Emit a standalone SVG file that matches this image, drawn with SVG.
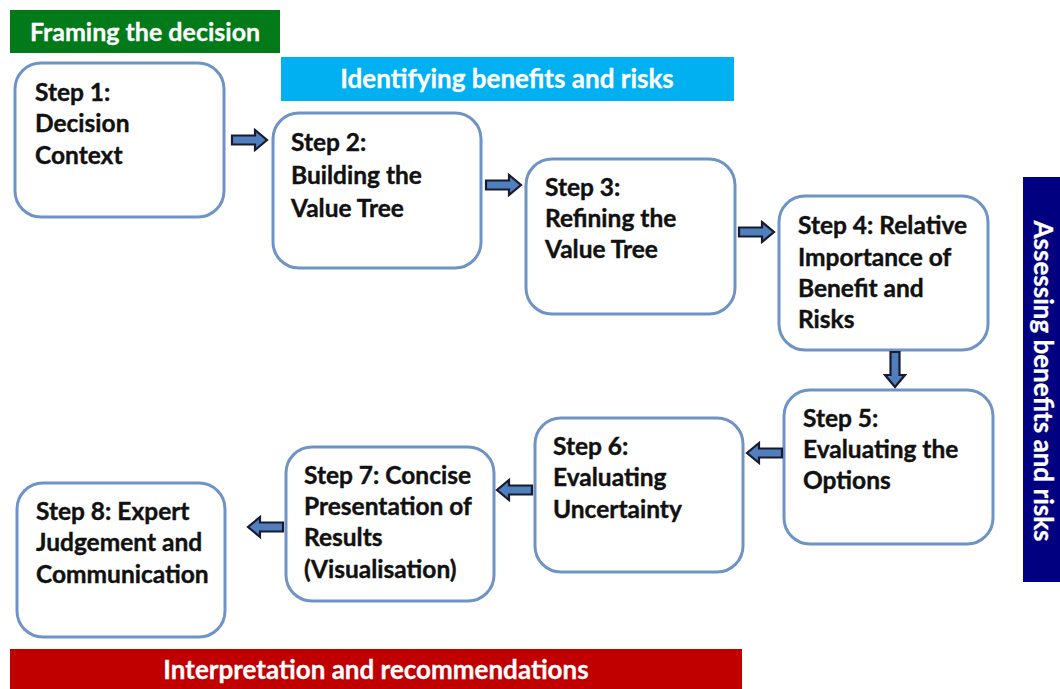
<svg xmlns="http://www.w3.org/2000/svg" width="1060" height="689" viewBox="0 0 1060 689">
  <style>
    .box { fill: #ffffff; stroke: #6f93c6; stroke-width: 3; }
    .lbl { font-family: Lato, "Open Sans", "Liberation Sans", sans-serif; font-weight: bold; font-size: 24.5px; fill: #111111; stroke: #111111; stroke-width: 0.4; }
    .band { font-family: Lato, "Open Sans", "Liberation Sans", sans-serif; font-weight: bold; font-size: 26px; fill: #ffffff; stroke: #ffffff; stroke-width: 0.3; }
    .arr { fill: #4f7fbd; stroke: #1a1a2e; stroke-width: 2.2; stroke-linejoin: miter; }
  </style>
  <defs>
    <!-- block arrow pointing right, 36 long, origin at tail centre -->
    <path id="blockArrow" d="M0,-4.5 H23 V-10 L35,0 L23,10 V4.5 H0 Z"/>
  </defs>
  <rect width="1060" height="689" fill="#ffffff"/>

  <!-- phase banners -->
  <g id="phase-framing">
    <rect x="10" y="10" width="270" height="43" fill="#027a1a"/>
    <text class="band" x="145" y="41" text-anchor="middle" style="font-size:25px">Framing the decision</text>
  </g>
  <g id="phase-identifying">
    <rect x="281" y="57" width="453" height="44" fill="#00b0f0"/>
    <text class="band" x="507" y="88" text-anchor="middle">Identifying benefits and risks</text>
  </g>
  <g id="phase-assessing">
    <rect x="1023" y="177" width="37" height="405" fill="#000080"/>
    <text class="band" transform="translate(1034,381) rotate(90)" text-anchor="middle">Assessing benefits and risks</text>
  </g>
  <g id="phase-interpretation">
    <rect x="10" y="649" width="732" height="40" fill="#c00000"/>
    <text class="band" x="376" y="679" text-anchor="middle">Interpretation and recommendations</text>
  </g>

  <!-- steps -->
  <g id="step1">
    <rect class="box" x="15" y="63" width="209" height="154" rx="26"/>
    <text class="lbl" x="35" y="101">Step 1:</text>
    <text class="lbl" x="35" y="132">Decision</text>
    <text class="lbl" x="35" y="164">Context</text>
  </g>
  <g id="step2">
    <rect class="box" x="273" y="113" width="208" height="155" rx="26"/>
    <text class="lbl" x="291" y="151">Step 2:</text>
    <text class="lbl" x="291" y="184">Building the</text>
    <text class="lbl" x="291" y="217">Value Tree</text>
  </g>
  <g id="step3">
    <rect class="box" x="526" y="159" width="209" height="155" rx="26"/>
    <text class="lbl" x="545" y="196">Step 3:</text>
    <text class="lbl" x="545" y="227">Refining the</text>
    <text class="lbl" x="545" y="258">Value Tree</text>
  </g>
  <g id="step4">
    <rect class="box" x="779" y="196" width="209" height="154" rx="26"/>
    <text class="lbl" x="798" y="234">Step 4: Relative</text>
    <text class="lbl" x="798" y="266">Importance of</text>
    <text class="lbl" x="798" y="297">Benefit and</text>
    <text class="lbl" x="798" y="328">Risks</text>
  </g>
  <g id="step5">
    <rect class="box" x="784" y="390" width="209" height="154" rx="26"/>
    <text class="lbl" x="803" y="427">Step 5:</text>
    <text class="lbl" x="803" y="458">Evaluating the</text>
    <text class="lbl" x="803" y="489">Options</text>
  </g>
  <g id="step6">
    <rect class="box" x="535" y="418" width="208" height="154" rx="26"/>
    <text class="lbl" x="553" y="455">Step 6:</text>
    <text class="lbl" x="553" y="486">Evaluating</text>
    <text class="lbl" x="553" y="518">Uncertainty</text>
  </g>
  <g id="step7">
    <rect class="box" x="286" y="447" width="208" height="154" rx="26"/>
    <text class="lbl" x="304" y="484">Step 7: Concise</text>
    <text class="lbl" x="304" y="515">Presentation of</text>
    <text class="lbl" x="304" y="546">Results</text>
    <text class="lbl" x="304" y="578">(Visualisation)</text>
  </g>
  <g id="step8">
    <rect class="box" x="17" y="483" width="208" height="154" rx="26"/>
    <text class="lbl" x="36" y="520">Step 8: Expert</text>
    <text class="lbl" x="36" y="551">Judgement and</text>
    <text class="lbl" x="36" y="583">Communication</text>
  </g>

  <!-- connectors -->
  <g id="connectors">
    <use href="#blockArrow" class="arr" transform="translate(232,140)"/>
    <use href="#blockArrow" class="arr" transform="translate(486,185)"/>
    <use href="#blockArrow" class="arr" transform="translate(739,232)"/>
    <use href="#blockArrow" class="arr" transform="translate(895,352) rotate(90)"/>
    <use href="#blockArrow" class="arr" transform="translate(782,453) rotate(180)"/>
    <use href="#blockArrow" class="arr" transform="translate(532,490) rotate(180)"/>
    <use href="#blockArrow" class="arr" transform="translate(283,527) rotate(180)"/>
  </g>
</svg>
